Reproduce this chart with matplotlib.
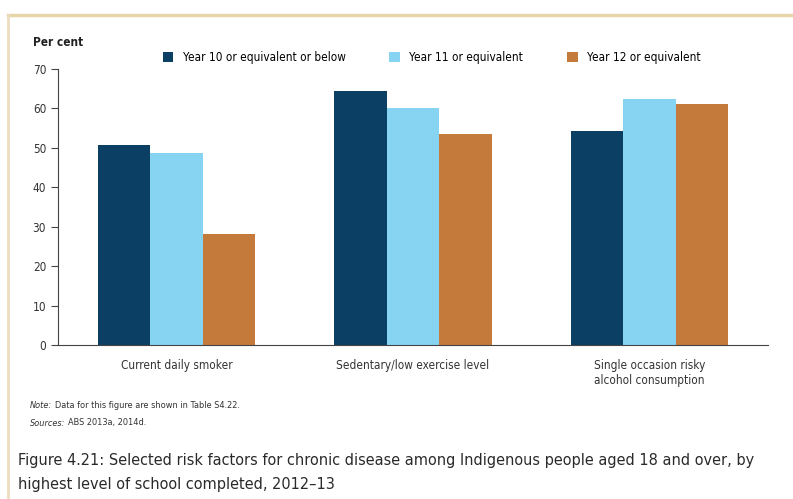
import matplotlib
matplotlib.use('Agg')
import matplotlib.pyplot as plt
import numpy as np
from matplotlib.lines import Line2D

# Chart data
categories = ['Current daily smoker', 'Sedentary/low exercise level',
              'Single occasion risky\nalcohol consumption']
series_names = ['Year 10 or equivalent or below', 'Year 11 or equivalent',
                'Year 12 or equivalent']
year10 = [50.8, 64.5, 54.2]
year11 = [48.8, 60.0, 62.3]
year12 = [28.1, 53.6, 61.2]
colors = ['#0b3f63', '#87d3f2', '#c47a3a']
yticks = [0, 10, 20, 30, 40, 50, 60, 70]

plt.rcParams['font.family'] = ['DejaVu Sans']
plt.rcParams['font.stretch'] = 'condensed'

fig = plt.figure(figsize=(7.93, 4.99), dpi=100)
fig.patch.set_facecolor('white')

# Tan frame lines top and left
fig.add_artist(Line2D([8/793, 1.0], [1 - 15/499, 1 - 15/499], color='#e6d6a8', lw=2.5))
fig.add_artist(Line2D([8/793, 8/793], [0, 1 - 15/499], color='#ecdcc0', lw=2))

ax = fig.add_axes([58/793, 1 - 345/499, 710/793, 276/499])
x = np.arange(len(categories))
w = 0.222
for i, (vals, c, name) in enumerate(zip([year10, year11, year12], colors, series_names)):
    ax.bar(x + (i - 1) * w, vals, width=w, color=c, label=name)

ax.set_xlim(-0.5, 2.5)
ax.set_ylim(0, 70)
ax.set_yticks(yticks)
ax.set_xticks(x)
ax.set_xticklabels(categories, fontsize=8.5, color='#333333')
ax.tick_params(axis='x', length=0, pad=10)
ax.tick_params(axis='y', direction='out', length=5, labelsize=8.5, labelcolor='#333333', color='#444444')
for s in ['top', 'right']:
    ax.spines[s].set_visible(False)
ax.spines['left'].set_color('#444444')
ax.spines['bottom'].set_color('#444444')

fig.text(33/793, 1 - 43/499, 'Per cent', fontsize=8.5, fontweight='bold', color='#222222', va='center')

ax.legend(loc='lower left', bbox_to_anchor=(152/793, 1 - 75/499), bbox_transform=fig.transFigure,
          ncol=3, frameon=False, fontsize=8.5, handlelength=0.9, handleheight=0.9,
          columnspacing=3.7, handletextpad=0.8)

# Notes with italic lead words
fig.canvas.draw()
renderer = fig.canvas.get_renderer()
for lead, rest, ypix in [('Note:', 'Data for this figure are shown in Table S4.22.', 405),
                         ('Sources:', 'ABS 2013a, 2014d.', 423)]:
    t = fig.text(30/793, 1 - ypix/499, lead, fontsize=6.6, style='italic', color='#333333', va='center')
    bb = t.get_window_extent(renderer)
    fig.text((bb.x1 + 3) / fig.bbox.width, 1 - ypix/499, rest, fontsize=6.6, color='#333333', va='center')

fig.text(18/793, 1 - 460/499,
         'Figure 4.21: Selected risk factors for chronic disease among Indigenous people aged 18 and over, by',
         fontsize=11.6, fontweight='medium', color='#2a2a2a', va='center')
fig.text(18/793, 1 - 484/499, 'highest level of school completed, 2012\u201313',
         fontsize=11.6, fontweight='medium', color='#2a2a2a', va='center')

fig.savefig('out.png', dpi=100)
